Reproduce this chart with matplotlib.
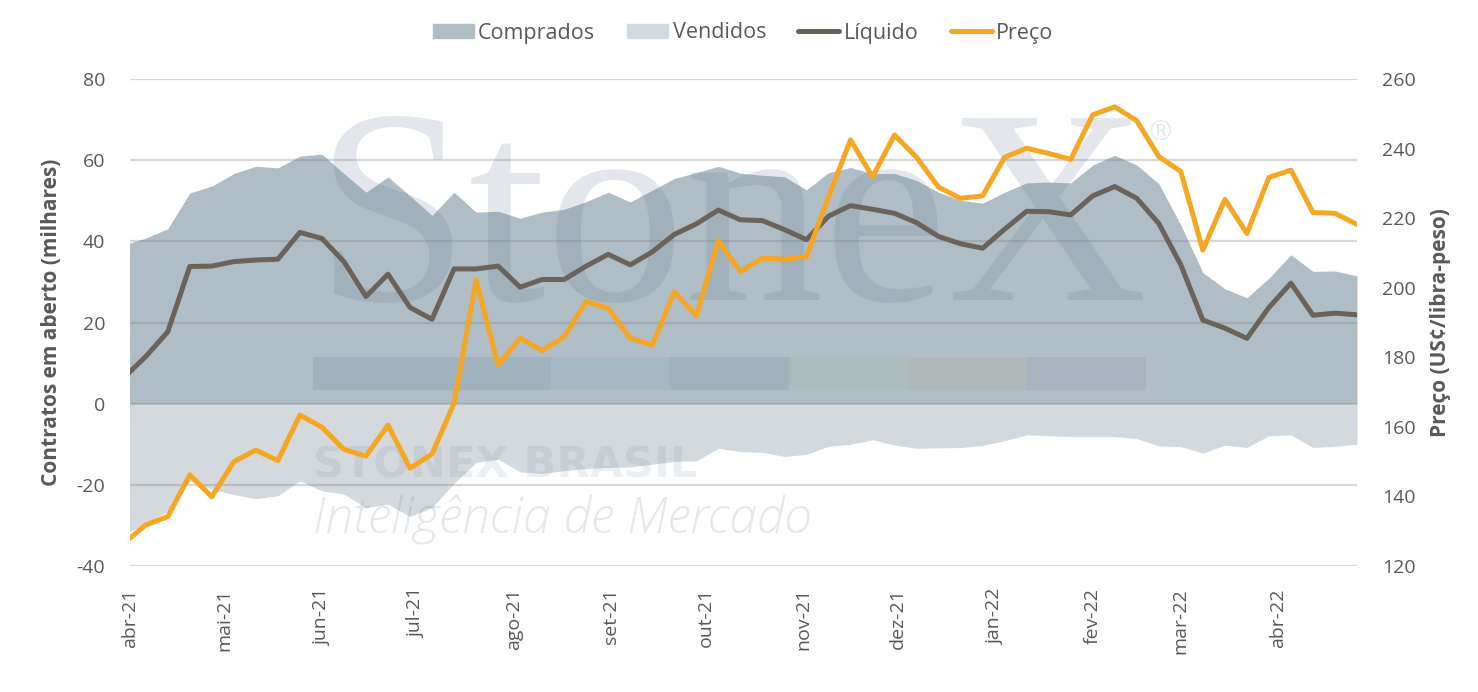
import matplotlib
matplotlib.use("Agg")
import matplotlib.pyplot as plt
from matplotlib.patches import Patch, Rectangle
from matplotlib.lines import Line2D
import pandas as pd

# weekly data (COT), first point falls just before the axis start
dates = pd.date_range("2021-03-30", periods=57, freq="7D")

comprados = [39.1, 40.8, 43.1, 51.9, 53.6, 56.7, 58.5, 58.1, 61.0, 61.5,
             56.7, 52.1, 55.9, 51.2, 46.4, 52.1, 47.2, 47.4, 45.7, 47.2,
             47.9, 49.8, 52.1, 49.7, 52.6, 55.5, 56.9, 58.5, 56.8, 56.3,
             55.9, 52.7, 56.9, 58.2, 56.7, 56.7, 55.0, 52.1, 50.1, 49.4,
             52.1, 54.4, 54.6, 54.4, 58.8, 61.2, 58.8, 54.2, 44.0, 32.3,
             28.3, 26.1, 30.9, 36.7, 32.6, 32.7, 31.5]

vendidos = [-32.3, -29.5, -26.5, -19.0, -21.1, -22.4, -23.4, -22.7, -19.0, -21.5,
            -22.3, -25.6, -24.8, -27.8, -25.6, -19.6, -14.5, -13.7, -16.8, -17.2,
            -16.5, -16.0, -15.7, -15.6, -14.9, -14.2, -14.1, -11.0, -11.8, -12.0,
            -13.0, -12.5, -10.5, -10.0, -8.9, -10.2, -11.0, -10.9, -10.8, -10.3,
            -9.1, -7.7, -7.9, -8.1, -8.1, -8.1, -8.6, -10.4, -10.6, -12.2,
            -10.2, -10.8, -7.9, -7.7, -10.8, -10.5, -10.0]

liquido = [6.4, 11.6, 17.7, 33.8, 33.9, 35.0, 35.4, 35.6, 42.2, 40.7,
           35.0, 26.4, 31.9, 23.7, 20.8, 33.2, 33.2, 33.9, 28.7, 30.6,
           30.6, 33.9, 36.8, 34.2, 37.4, 41.7, 44.3, 47.7, 45.3, 45.1,
           42.9, 40.4, 46.2, 48.8, 47.9, 46.9, 44.6, 41.2, 39.4, 38.3,
           43.0, 47.4, 47.3, 46.5, 51.2, 53.5, 50.6, 44.4, 34.2, 20.6,
           18.6, 16.1, 23.7, 29.7, 21.8, 22.3, 21.9]

preco = [126.5, 131.8, 134.2, 146.2, 139.9, 150.0, 153.3, 150.3, 163.4, 159.9,
         153.5, 151.6, 160.5, 148.1, 152.2, 166.8, 202.2, 177.8, 185.5, 181.9,
         185.9, 196.0, 194.1, 185.5, 183.5, 198.9, 191.9, 213.5, 204.6, 208.5,
         208.2, 208.9, 226.0, 242.5, 231.9, 243.9, 237.5, 228.9, 225.7, 226.4,
         237.5, 240.1, 238.6, 236.9, 249.7, 252.0, 248.0, 237.7, 233.4, 210.8,
         225.4, 215.6, 231.7, 233.8, 221.6, 221.4, 218.2]

tick_dates = pd.date_range("2021-04-01", "2022-04-01", freq="MS")
tick_labels = ["abr-21", "mai-21", "jun-21", "jul-21", "ago-21", "set-21", "out-21",
               "nov-21", "dez-21", "jan-22", "fev-22", "mar-22", "abr-22"]

C_COMP = "#afbec6"
C_VEND = "#d4d9dd"
C_LIQ = "#6b6359"
C_PRECO = "#f5a623"
C_TXT = "#595959"
WM = "#59768f"

plt.rcParams["font.family"] = ["Open Sans", "DejaVu Sans"]
plt.rcParams["axes.unicode_minus"] = False

fig = plt.figure(figsize=(14.78, 6.92), dpi=100)
ax = fig.add_axes([130 / 1478, 1 - 566 / 692, (1357 - 130) / 1478, (566 - 79) / 692])

ax.fill_between(dates, 0, comprados, color=C_COMP, lw=0, zorder=1)
ax.fill_between(dates, vendidos, 0, color=C_VEND, lw=0, zorder=1)

# gridlines over the areas (they show darker inside the fill)
for v in range(-40, 81, 20):
    ax.axhline(v, color="#7f7f7f", alpha=0.3, lw=1.6, zorder=1.5)

# watermark
ax.text(314 / 1478, 1 - 300 / 692, "StoneX", transform=fig.transFigure,
        family=["Liberation Serif"], fontsize=200, color=WM, alpha=0.17,
        ha="left", va="baseline", zorder=2)
ax.text(1160 / 1478, 1 - 133 / 692, "®", transform=fig.transFigure,
        family=["DejaVu Sans"], fontsize=20, color=WM, alpha=0.17,
        ha="center", va="center", zorder=2)
ax.text(313 / 1478, 1 - 478 / 692, "STONEX BRASIL", transform=fig.transFigure,
        family=["DejaVu Sans"], fontweight="bold", fontsize=31, color=WM, alpha=0.11,
        ha="left", va="baseline", zorder=2)
ax.text(313 / 1478, 1 - 532 / 692, "Inteligência de Mercado", transform=fig.transFigure,
        family=["Open Sans", "DejaVu Sans"], fontweight="light", style="italic", fontsize=36,
        color=WM, alpha=0.16, ha="left", va="baseline", zorder=2)
strip = ["#1f4e79", "#1f4e79", "#4a90b0", "#1f4e79", "#7fb069", "#c0804a", "#7a4f8a"]
for k, c in enumerate(strip):
    ax.add_patch(Rectangle(((313 + k * 119) / 1478, 1 - 390 / 692), 119 / 1478, 33 / 692,
                           transform=fig.transFigure, color=c, alpha=0.1, lw=0, zorder=2))

ax.plot(dates, liquido, color=C_LIQ, lw=3.6, zorder=3, solid_joinstyle="round")

ax.set_xlim(pd.Timestamp("2021-04-01"), dates[-1])
ax.set_ylim(-40, 80)
ax.set_yticks(range(-40, 81, 20))
ax.set_xticks(tick_dates)
ax.set_xticklabels(tick_labels, rotation=90, va="top", ha="center")
ax.tick_params(axis="x", length=0, pad=16, labelsize=14, labelcolor=C_TXT)
ax.tick_params(axis="y", length=0, pad=18, labelsize=14, labelcolor=C_TXT)
for s in ax.spines.values():
    s.set_visible(False)
ax.set_ylabel("Contratos em aberto (milhares)", fontsize=15, fontweight="bold",
              color=C_TXT, labelpad=10)

ax2 = ax.twinx()
ax2.plot(dates, preco, color=C_PRECO, lw=3.6, zorder=3, solid_joinstyle="round")
ax2.set_ylim(120, 260)
ax2.set_yticks(range(120, 261, 20))
ax2.tick_params(axis="y", length=0, pad=18, labelsize=14, labelcolor=C_TXT)
for s in ax2.spines.values():
    s.set_visible(False)
ax2.set_ylabel("Preço (US¢/libra-peso)", fontsize=15, fontweight="bold",
               color=C_TXT, labelpad=10)

handles = [Patch(color=C_COMP), Patch(color=C_VEND),
           Line2D([], [], color=C_LIQ, lw=3.6, solid_capstyle="round"),
           Line2D([], [], color=C_PRECO, lw=3.6, solid_capstyle="round")]
fig.legend(handles, ["Comprados", "Vendidos", "Líquido", "Preço"], loc="center",
           bbox_to_anchor=(743 / 1478, 1 - 33 / 692), ncol=4, frameon=False,
           fontsize=15.5, labelcolor=C_TXT, handlelength=1.9, handletextpad=0.2,
           columnspacing=1.5, handleheight=0.6)

fig.savefig("out.png", dpi=100)
